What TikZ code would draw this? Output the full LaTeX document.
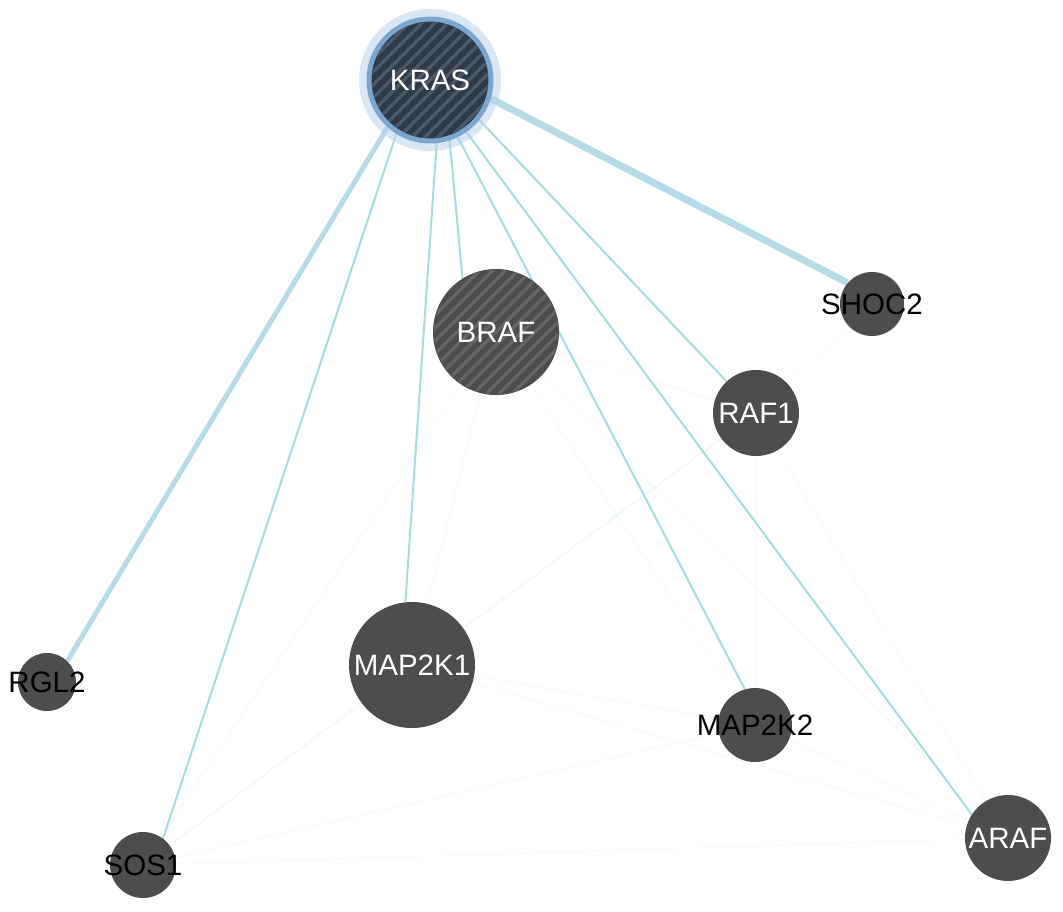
\documentclass[tikz,border=0pt]{standalone}
\usepackage{fontspec}
\setmainfont{Liberation Sans}
\definecolor{nodegray}{HTML}{4D4D4D}
\definecolor{krasfill}{HTML}{2E3A48}
\definecolor{krasstripe}{HTML}{4A5868}
\definecolor{krasring}{HTML}{7BA6D0}
\definecolor{krasglow}{HTML}{B4D0EA}
\definecolor{brafstripe}{HTML}{656565}
\definecolor{edgecyan}{HTML}{A3DEDF}
\definecolor{edgeblue}{HTML}{B5DCE8}
\pgfdeclarelayer{bg}
\pgfsetlayers{bg,main}
\tikzset{
  gene/.style={circle, fill=nodegray, draw=none, inner sep=0pt, minimum size=#1},
  wlab/.style={text=white, inner sep=0pt, font=\fontsize{29.5}{31}\selectfont},
  blab/.style={text=black, inner sep=0pt, font=\fontsize{29.5}{31}\selectfont},
  edge/.style={draw=edgecyan, line width=2pt},
  thickedge/.style={draw=edgeblue, line width=#1},
  faint/.style={draw=edgecyan, line width=2pt, opacity=0.07},
  stripe/.style={line width=3.5pt},
}
\begin{document}
\begin{tikzpicture}[x=1pt,y=-1pt]
\useasboundingbox (0,0) rectangle (1063,911);

% KRAS glow and node
\fill[krasglow, opacity=0.5] (430,80) circle (71);
\node[circle, inner sep=0pt, minimum size=122pt, fill=krasfill, draw=krasring, line width=5pt] (KRAS) at (430,80) {};
\begin{scope}[shift={(430,80)}]
  \clip (0,0) circle (58);
  \foreach \i in {-156,-143,...,156} \draw[stripe, krasstripe] (\i-80,80) -- (\i+80,-80);
\end{scope}
\node[wlab] (KRASlab) at (KRAS.center) {KRAS};

% BRAF
\node[gene=126pt] (BRAF) at (496,332) {};
\begin{scope}[shift={(496,332)}]
  \clip (0,0) circle (62);
  \foreach \i in {-156,-143,...,156} \draw[stripe, brafstripe] (\i-80,80) -- (\i+80,-80);
\end{scope}
\node[wlab] (BRAFlab) at (BRAF.center) {BRAF};

% other genes
\node[gene=64pt]  (SHOC2)  at (872,304) {};
\node[gene=86pt]  (RAF1)   at (756,413) {};
\node[gene=126pt] (MAP2K1) at (412,665) {};
\node[gene=58pt]  (RGL2)   at (47,682) {};
\node[gene=74pt]  (MAP2K2) at (755,725) {};
\node[gene=66pt]  (SOS1)   at (143,865) {};
\node[gene=86pt]  (ARAF)   at (1008,838) {};

\node[blab] (SHOC2lab)  at (SHOC2.center) {SHOC2};
\node[wlab] (RAF1lab)   at (RAF1.center) {RAF1};
\node[wlab] (MAP2K1lab) at (MAP2K1.center) {MAP2K1};
\node[blab] (RGL2lab)   at (RGL2.center) {RGL2};
\node[blab] (MAP2K2lab) at (MAP2K2.center) {MAP2K2};
\node[blab] (SOS1lab)   at (SOS1.center) {SOS1};
\node[wlab] (ARAFlab)   at (ARAF.center) {ARAF};

\begin{pgfonlayer}{bg}
  \fill[white] (0,0) rectangle (1063,911);
  % faint background interactions
  \draw[faint] (BRAF) -- (MAP2K1);
  \draw[faint] (BRAF) -- (MAP2K2);
  \draw[faint] (BRAF) -- (SOS1);
  \draw[faint] (BRAF) -- (ARAF);
  \draw[faint] (BRAF) -- (RAF1);
  \draw[faint] (RAF1) -- (MAP2K2);
  \draw[faint] (RAF1) -- (MAP2K1);
  \draw[faint] (RAF1) -- (ARAF);
  \draw[faint] (RAF1) -- (SOS1);
  \draw[faint] (MAP2K1) -- (MAP2K2);
  \draw[faint] (MAP2K1) -- (SOS1);
  \draw[faint] (MAP2K1) -- (ARAF);
  \draw[faint] (MAP2K2) -- (ARAF);
  \draw[faint] (MAP2K2) -- (SOS1);
  \draw[faint] (SOS1) -- (ARAF);
  \draw[faint] (SHOC2) -- (RAF1);

  % KRAS interactions
  \draw[thickedge=5pt] (KRAS.-132) -- (RGL2.46);
  \draw[edge] (KRAS.-122) -- (SOS1.53);
  \draw[edge] (KRAS.-84) -- (MAP2K1.96);
  \draw[edge] (KRAS.-72) -- (BRAF.122);
  \draw[edge] (KRAS.-64) -- (MAP2K2.106);
  \draw[edge] (KRAS.-55) -- (ARAF.147);
  \draw[edge] (KRAS.-39) -- (RAF1.133);
  \draw[thickedge=7pt] (KRAS.-17) -- (SHOC2.139);
\end{pgfonlayer}
\end{tikzpicture}
\end{document}
